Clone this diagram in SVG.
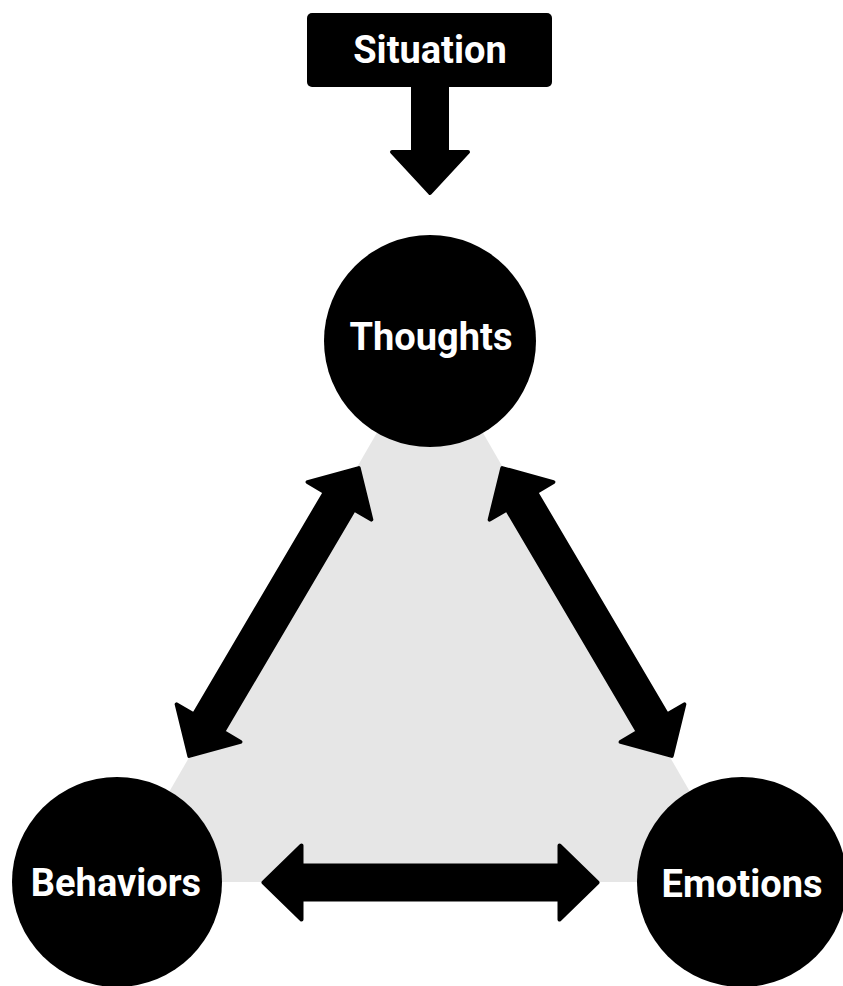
<svg xmlns="http://www.w3.org/2000/svg" width="843" height="986" viewBox="0 0 843 986">
  <style>
    .node { fill: #000; }
    .lbl { fill: #fff; font-family: Roboto, "Liberation Sans", sans-serif; font-weight: bold; font-size: 38px; text-anchor: middle; }
    .arrow { fill: #000; stroke: #000; stroke-width: 4; stroke-linejoin: round; }
  </style>
  <defs>
    <path id="dbl" d="M -167 0 L -129 -37 L -129 -17 L 129 -17 L 129 -37 L 167 0 L 129 37 L 129 17 L -129 17 L -129 37 Z"/>
  </defs>
  <rect width="843" height="986" fill="#fff"/>
  <polygon id="backdrop" points="430,341 117,882 742,882" fill="#e6e6e6"/>
  <g id="connectors">
    <path class="arrow" d="M 413 85 L 447 85 L 447 152 L 468 152 L 430 193 L 392 152 L 413 152 Z"/>
    <use href="#dbl" class="arrow" transform="translate(274 612) rotate(-59.5)"/>
    <use href="#dbl" class="arrow" transform="translate(587 612) rotate(59.5)"/>
    <use href="#dbl" class="arrow" transform="translate(430.5 882.5)"/>
  </g>
  <g id="situation">
    <rect class="node" x="307" y="13" width="245" height="74" rx="5"/>
    <text class="lbl" x="430" y="63">Situation</text>
  </g>
  <g id="thoughts">
    <circle class="node" cx="430" cy="341" r="106"/>
    <text class="lbl" x="431" y="350">Thoughts</text>
  </g>
  <g id="behaviors">
    <circle class="node" cx="117" cy="882" r="105"/>
    <text class="lbl" x="116" y="896">Behaviors</text>
  </g>
  <g id="emotions">
    <circle class="node" cx="742" cy="882" r="105"/>
    <text class="lbl" x="742" y="897">Emotions</text>
  </g>
</svg>
